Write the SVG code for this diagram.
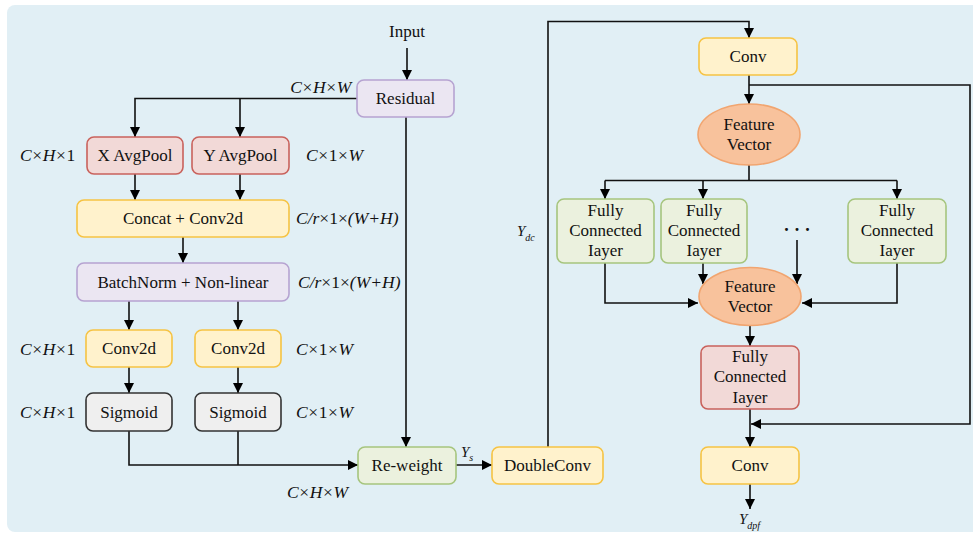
<svg xmlns="http://www.w3.org/2000/svg" width="973" height="533" viewBox="0 0 973 533" font-family="Liberation Serif, DejaVu Serif, serif">
<defs>
<marker id="ah" markerUnits="userSpaceOnUse" markerWidth="10" markerHeight="10" refX="10" refY="5" orient="auto">
<path d="M0,0 L10,5 L0,10 z" fill="#000"/>
</marker>
<style>
text{font-family:'Liberation Serif','DejaVu Serif',serif;font-size:17px;fill:#111}
.c{text-anchor:middle}
.lab{font-size:17.5px;letter-spacing:0.6px}
.lab2{font-size:17.5px}
.i{font-style:italic}
.sub{font-size:10px;font-style:italic}
.yel{fill:#FFF2CC;stroke:#F6C343;stroke-width:1.6}
.pur{fill:#EBE6F2;stroke:#B6A3D1;stroke-width:1.6}
.red{fill:#F2D9D7;stroke:#C9625C;stroke-width:1.6}
.grn{fill:#EBF1DE;stroke:#A6C57E;stroke-width:1.6}
.gry{fill:#EFEFEF;stroke:#333;stroke-width:1.6}
.ora{fill:#F8C29C;stroke:#F1A570;stroke-width:1.6}
.ln{fill:none;stroke:#111;stroke-width:1.6}
.ar{marker-end:url(#ah)}
</style>
</defs>
<rect x="0" y="0" width="973" height="533" fill="#fff"/>
<rect x="7" y="5" width="975" height="527" rx="8" fill="#E1EFF5"/>

<g id="connectors">
<path class="ln ar" d="M407,48 L407,80"/>
<path class="ln ar" d="M357,98.5 L135,98.5 L135,137"/>
<path class="ln ar" d="M240,98.5 L240,137"/>
<path class="ln ar" d="M135,174 L135,200"/>
<path class="ln ar" d="M240,174 L240,200"/>
<path class="ln ar" d="M183,237 L183,263"/>
<path class="ln ar" d="M129,301 L129,330"/>
<path class="ln ar" d="M238,301 L238,330"/>
<path class="ln ar" d="M129,367 L129,393"/>
<path class="ln ar" d="M238,367 L238,393"/>
<path class="ln ar" d="M129,431 L129,465 L358,465"/>
<path class="ln" d="M238,431 L238,465"/>
<path class="ln ar" d="M406,117 L406,447"/>
<path class="ln ar" d="M456,465 L492,465"/>
<path class="ln ar" d="M548,447 L548,21.5 L749,21.5 L749,38"/>
<path class="ln ar" d="M749,75 L749,104"/>
<path class="ln ar" d="M749,85 L970,85 L970,424 L751,424"/>
<path class="ln" d="M749,165 L749,180.5"/>
<path class="ln" d="M605,180.5 L897,180.5"/>
<path class="ln ar" d="M605,180.5 L605,199"/>
<path class="ln ar" d="M703,180.5 L703,199"/>
<path class="ln ar" d="M897,180.5 L897,199"/>
<path class="ln ar" d="M605,263 L605,303 L698,303"/>
<path class="ln ar" d="M897,263 L897,303 L802,303"/>
<path class="ln ar" d="M703,263 L703,284"/>
<path class="ln ar" d="M797,240 L797,284"/>
<path class="ln ar" d="M750,326 L750,346"/>
<path class="ln ar" d="M750,409 L750,447"/>
<path class="ln ar" d="M750,484 L750,509"/>
</g>

<g id="input"><text class="c" x="407" y="37">Input</text></g>
<g id="residual"><rect class="pur" x="357" y="80" width="97" height="37" rx="7"/><text class="c" x="405.5" y="104">Residual</text></g>
<g id="xavgpool"><rect class="red" x="87" y="137" width="96" height="37" rx="7"/><text class="c" x="135" y="161">X AvgPool</text></g>
<g id="yavgpool"><rect class="red" x="192" y="137" width="97" height="37" rx="7"/><text class="c" x="240.5" y="161">Y AvgPool</text></g>
<g id="concat"><rect class="yel" x="77" y="200" width="212" height="37" rx="7"/><text class="c" x="183" y="224">Concat + Conv2d</text></g>
<g id="batchnorm"><rect class="pur" x="77" y="263" width="212" height="38" rx="7"/><text class="c" x="183" y="288">BatchNorm + Non-linear</text></g>
<g id="conv2d-x"><rect class="yel" x="86" y="330" width="86" height="37" rx="7"/><text class="c" x="129" y="354">Conv2d</text></g>
<g id="conv2d-y"><rect class="yel" x="195" y="330" width="86" height="37" rx="7"/><text class="c" x="238" y="354">Conv2d</text></g>
<g id="sigmoid-x"><rect class="gry" x="86" y="393" width="86" height="38" rx="7"/><text class="c" x="129" y="418">Sigmoid</text></g>
<g id="sigmoid-y"><rect class="gry" x="195" y="393" width="86" height="38" rx="7"/><text class="c" x="238" y="418">Sigmoid</text></g>
<g id="reweight"><rect class="grn" x="358" y="447" width="98" height="37" rx="7"/><text class="c" x="407" y="471">Re-weight</text></g>
<g id="doubleconv"><rect class="yel" x="492" y="447" width="111" height="37" rx="7"/><text class="c" x="547.5" y="471">DoubleConv</text></g>
<g id="conv-top"><rect class="yel" x="699" y="38" width="98" height="37" rx="7"/><text class="c" x="748" y="62">Conv</text></g>
<g id="feature-vector-1"><ellipse class="ora" cx="749" cy="134.5" rx="51" ry="30.5"/><text class="c" x="749" y="130">Feature</text><text class="c" x="749" y="150">Vector</text></g>
<g id="fc-1"><rect class="grn" x="557" y="199" width="97" height="64" rx="7"/><text class="c" x="605.5" y="216">Fully</text><text class="c" x="605.5" y="236">Connected</text><text class="c" x="605.5" y="256">Iayer</text></g>
<g id="fc-2"><rect class="grn" x="661" y="199" width="86" height="64" rx="7"/><text class="c" x="704" y="216">Fully</text><text class="c" x="704" y="236">Connected</text><text class="c" x="704" y="256">Iayer</text></g>
<g id="dots"><text class="c" x="797" y="236" style="font-size:18px;font-weight:bold">· · ·</text></g>
<g id="fc-3"><rect class="grn" x="848" y="199" width="98" height="64" rx="7"/><text class="c" x="897" y="216">Fully</text><text class="c" x="897" y="236">Connected</text><text class="c" x="897" y="256">Iayer</text></g>
<g id="feature-vector-2"><ellipse class="ora" cx="750" cy="296.5" rx="51" ry="29"/><text class="c" x="750" y="291.5">Feature</text><text class="c" x="750" y="311.5">Vector</text></g>
<g id="fc-red"><rect class="red" x="701" y="346" width="98" height="63" rx="7"/><text class="c" x="750" y="362">Fully</text><text class="c" x="750" y="382">Connected</text><text class="c" x="750" y="403">Iayer</text></g>
<g id="conv-bottom"><rect class="yel" x="701" y="447" width="98" height="37" rx="7"/><text class="c" x="750" y="471">Conv</text></g>

<g id="labels">
<text class="lab" x="352" y="93" text-anchor="end"><tspan class="i">C</tspan>×<tspan class="i">H</tspan>×<tspan class="i">W</tspan></text>
<text class="lab" x="20" y="161"><tspan class="i">C</tspan>×<tspan class="i">H</tspan>×1</text>
<text class="lab" x="306" y="161"><tspan class="i">C</tspan>×1×<tspan class="i">W</tspan></text>
<text class="lab2 i" x="296" y="224">C/r<tspan font-style="normal">×1×</tspan>(W+H)</text>
<text class="lab2 i" x="298" y="288">C/r<tspan font-style="normal">×1×</tspan>(W+H)</text>
<text class="lab" x="20" y="355"><tspan class="i">C</tspan>×<tspan class="i">H</tspan>×1</text>
<text class="lab" x="296" y="355"><tspan class="i">C</tspan>×1×<tspan class="i">W</tspan></text>
<text class="lab" x="20" y="418"><tspan class="i">C</tspan>×<tspan class="i">H</tspan>×1</text>
<text class="lab" x="296" y="418"><tspan class="i">C</tspan>×1×<tspan class="i">W</tspan></text>
<text class="lab" x="287" y="498"><tspan class="i">C</tspan>×<tspan class="i">H</tspan>×<tspan class="i">W</tspan></text>
<text x="461" y="457" class="i" style="font-size:15px">Y<tspan class="sub" dy="4">s</tspan></text>
<text x="517" y="236" class="i" style="font-size:15px">Y<tspan class="sub" dy="5">dc</tspan></text>
<text x="739" y="524" class="i" style="font-size:15px">Y<tspan class="sub" dy="5">dpf</tspan></text>
</g>
</svg>
